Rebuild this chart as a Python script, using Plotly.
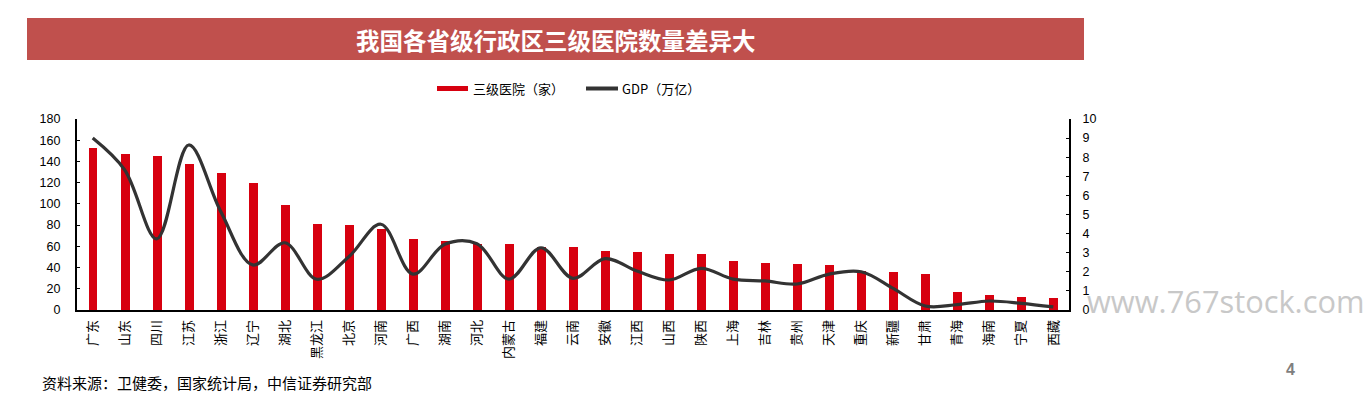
import plotly.graph_objects as go

W, H = 1365, 399

provinces = ["广东", "山东", "四川", "江苏", "浙江", "辽宁", "湖北", "黑龙江", "北京", "河南",
             "广西", "湖南", "河北", "内蒙古", "福建", "云南", "安徽", "江西", "山西", "陕西",
             "上海", "吉林", "贵州", "天津", "重庆", "新疆", "甘肃", "青海", "海南", "宁夏", "西藏"]
hospitals = [153, 147, 145, 138, 129, 120, 99, 81, 80, 76,
             67, 65, 62, 62, 59, 59, 56, 55, 53, 53,
             46, 44, 43, 42, 37, 36, 34, 17, 14, 12, 11]
gdp = [9.00, 7.33, 3.72, 8.64, 5.15, 2.36, 3.52, 1.61, 2.79, 4.49,
       1.88, 3.44, 3.47, 1.62, 3.26, 1.66, 2.69, 2.04, 1.57, 2.18,
       1.62, 1.52, 1.36, 1.88, 2.00, 1.13, 0.21, 0.28, 0.47, 0.35, 0.16]
left_ticks = list(range(0, 181, 20))
right_ticks = list(range(0, 11, 1))

title = "我国各省级行政区三级医院数量差异大"
legend_bar = "三级医院（家）"
legend_line = "GDP（万亿）"
source = "资料来源：卫健委，国家统计局，中信证券研究部"
watermark = "www.767stock.com"
page_no = "4"

FONT = "Liberation Sans, Arial, Noto Sans CJK SC, sans-serif"
CJK = "Noto Sans CJK SC, Liberation Sans, sans-serif"
RED = "#D7000F"
DARK = "#333333"


def px(x):
    return x / W


def py(y):
    return 1 - y / H


fig = go.Figure()
fig.add_trace(go.Bar(x=provinces, y=hospitals, marker=dict(color=RED, line=dict(width=0)),
                     width=0.28, yaxis="y", name=legend_bar, showlegend=False))
fig.add_trace(go.Scatter(x=provinces, y=gdp, mode="lines", yaxis="y2",
                         line=dict(color=DARK, width=3.2, shape="spline", smoothing=1.0),
                         name=legend_line, showlegend=False))

fig.update_layout(
    template="none",
    width=W, height=H, autosize=False,
    margin=dict(l=0, r=0, t=0, b=0, pad=0),
    paper_bgcolor="white", plot_bgcolor="white",
    font=dict(family=FONT, color="black", size=12),
    showlegend=False,
    xaxis=dict(domain=[px(76.7), px(1069.3)], type="category", range=[-0.5, 30.5],
               automargin=False,
               showline=True, linecolor="black", linewidth=1.5, ticks="", showgrid=False,
               tickangle=-90, tickfont=dict(family=CJK, size=13, color="black"),
               ticklabelstandoff=3,
               zeroline=False, fixedrange=True),
    yaxis=dict(domain=[py(310), py(119)], range=[0, 180], tickvals=left_ticks,
               automargin=False,
               showline=True, linecolor="black", linewidth=1.5, ticks="inside", ticklen=4,
               tickcolor="black", tickwidth=1.2, showgrid=False, zeroline=False,
               ticklabelstandoff=12,
               tickfont=dict(family=FONT, size=12.5, color="black")),
    yaxis2=dict(overlaying="y", side="right", anchor="x", range=[0, 10], tickvals=right_ticks,
                automargin=False,
                showline=True, linecolor="black", linewidth=1.5, ticks="inside", ticklen=4,
                tickcolor="black", tickwidth=1.2, showgrid=False, zeroline=False,
                ticklabelstandoff=9,
                tickfont=dict(family=FONT, size=12.5, color="black")),
    bargap=0,
)

shapes = [
    dict(type="rect", xref="paper", yref="paper", x0=px(27), x1=px(1084), y0=py(60), y1=py(18),
         fillcolor="#C0504D", line=dict(width=0), layer="below"),
    dict(type="rect", xref="paper", yref="paper", x0=px(437), x1=px(468), y0=py(91), y1=py(86),
         fillcolor=RED, line=dict(width=0)),
    dict(type="line", xref="paper", yref="paper", x0=px(586), x1=px(618), y0=py(88.5), y1=py(88.5),
         line=dict(color=DARK, width=4)),
]
annotations = [
    dict(text="<b>" + title + "</b>", xref="paper", yref="paper", x=px(556), y=py(40),
         xanchor="center", yanchor="middle", showarrow=False,
         font=dict(family=CJK, size=23.5, color="white")),
    dict(text=legend_bar, xref="paper", yref="paper", x=px(471), y=py(88.5),
         xanchor="left", yanchor="middle", showarrow=False,
         font=dict(family=CJK, size=13, color="black")),
    dict(text=legend_line, xref="paper", yref="paper", x=px(620), y=py(88.5),
         xanchor="left", yanchor="middle", showarrow=False,
         font=dict(family=CJK, size=13, color="black")),
    dict(text=source, xref="paper", yref="paper", x=px(40), y=py(382),
         xanchor="left", yanchor="middle", showarrow=False,
         font=dict(family=CJK, size=15, color="black")),
    dict(text=watermark, xref="paper", yref="paper", x=px(1085), y=py(301),
         xanchor="left", yanchor="middle", showarrow=False,
         font=dict(family="Open Sans, Liberation Sans, sans-serif", size=30.8, color="#C8C8C8")),
    dict(text="<b>" + page_no + "</b>", xref="paper", yref="paper", x=px(1290), y=py(369),
         xanchor="center", yanchor="middle", showarrow=False,
         font=dict(family=FONT, size=16, color="#7F7F7F")),
]
fig.update_layout(shapes=shapes, annotations=annotations)

fig.write_html("out.html", config={"displayModeBar": False},
               post_script="document.body.style.margin='0';document.body.style.overflow='hidden';")
